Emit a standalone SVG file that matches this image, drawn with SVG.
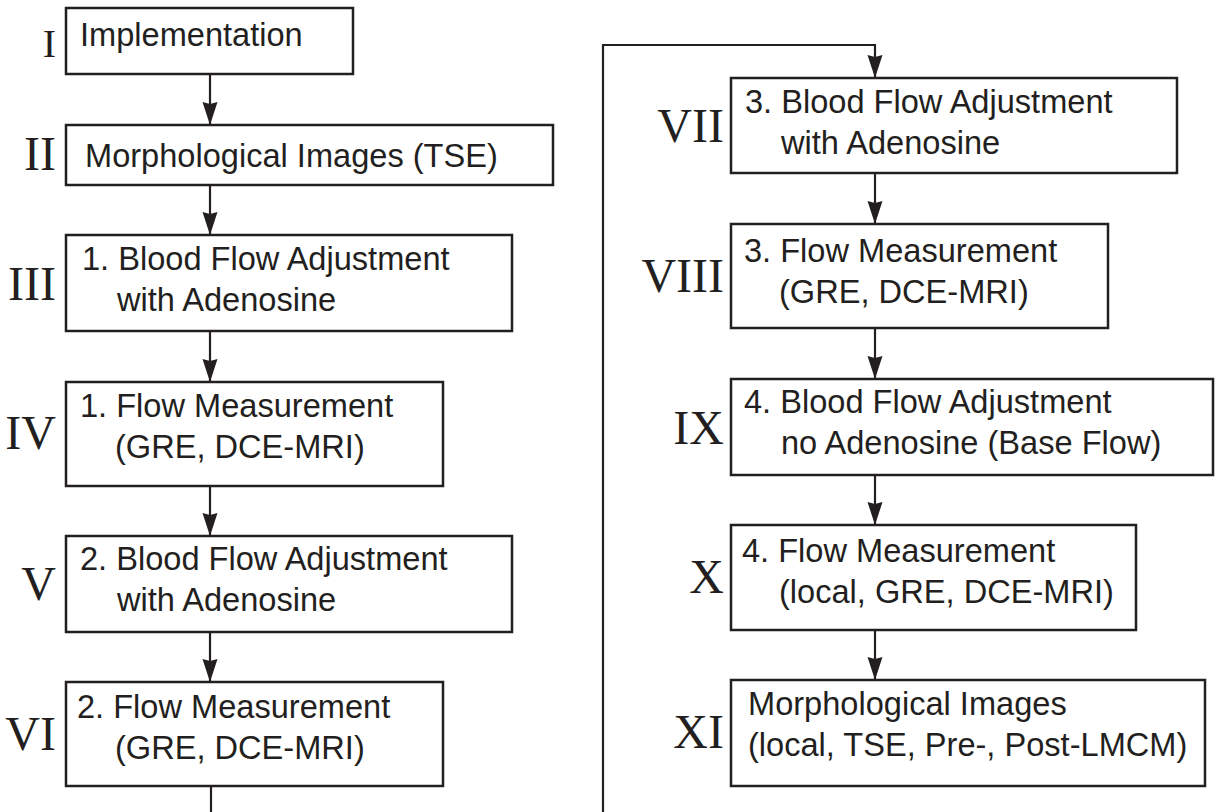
<svg xmlns="http://www.w3.org/2000/svg" width="1215" height="812" viewBox="0 0 1215 812">
<style>
.box{fill:#fff;stroke:#231f20;stroke-width:2.5}
.t{font-family:"Liberation Sans",Arial,sans-serif;font-size:32.6px;fill:#231f20}
.n{font-family:"Liberation Serif","Times New Roman",serif;font-size:48px;fill:#231f20;text-anchor:end}
.c{fill:none;stroke:#231f20;stroke-width:2.2}
</style>
<defs>
<marker id="ah" markerUnits="userSpaceOnUse" markerWidth="24" markerHeight="16" refX="23" refY="7.5" orient="auto">
<path d="M0,0 L23,7.5 L0,15 L2,7.5 z" fill="#231f20"/>
</marker>
</defs>
<rect width="1215" height="812" fill="#fff"/>
<g id="connectors">
<line class="c" x1="210" y1="74" x2="210" y2="125" marker-end="url(#ah)"/>
<line class="c" x1="210" y1="185" x2="210" y2="235" marker-end="url(#ah)"/>
<line class="c" x1="210" y1="331" x2="210" y2="382" marker-end="url(#ah)"/>
<line class="c" x1="210" y1="486" x2="210" y2="536" marker-end="url(#ah)"/>
<line class="c" x1="210" y1="632" x2="210" y2="682" marker-end="url(#ah)"/>
<line class="c" x1="211" y1="786" x2="211" y2="812"/>
<polyline class="c" points="603,812 603,45 875,45 875,78" marker-end="url(#ah)"/>
<line class="c" x1="875" y1="173" x2="875" y2="224" marker-end="url(#ah)"/>
<line class="c" x1="875" y1="328" x2="875" y2="379" marker-end="url(#ah)"/>
<line class="c" x1="875" y1="475" x2="875" y2="525" marker-end="url(#ah)"/>
<line class="c" x1="875" y1="630" x2="875" y2="680" marker-end="url(#ah)"/>
</g>
<g id="node-I">
<rect class="box" x="66" y="8" width="287" height="66"/>
<text class="n" x="56" y="57" style="font-size:40px">I</text>
<text class="t" x="80" y="46">Implementation</text>
</g>
<g id="node-II">
<rect class="box" x="66" y="125" width="487" height="60"/>
<text class="n" x="56" y="170">II</text>
<text class="t" x="85" y="167">Morphological Images (TSE)</text>
</g>
<g id="node-III">
<rect class="box" x="66" y="235" width="446" height="96"/>
<text class="n" x="56" y="300">III</text>
<text class="t" x="82" y="270">1. Blood Flow Adjustment</text>
<text class="t" x="117" y="311">with Adenosine</text>
</g>
<g id="node-IV">
<rect class="box" x="66" y="382" width="377" height="104"/>
<text class="n" x="56" y="449">IV</text>
<text class="t" x="80" y="417">1. Flow Measurement</text>
<text class="t" x="115" y="458">(GRE, DCE-MRI)</text>
</g>
<g id="node-V">
<rect class="box" x="66" y="536" width="446" height="96"/>
<text class="n" x="56" y="600">V</text>
<text class="t" x="80" y="570">2. Blood Flow Adjustment</text>
<text class="t" x="117" y="611">with Adenosine</text>
</g>
<g id="node-VI">
<rect class="box" x="66" y="682" width="377" height="104"/>
<text class="n" x="56" y="750">VI</text>
<text class="t" x="77" y="718">2. Flow Measurement</text>
<text class="t" x="115" y="759">(GRE, DCE-MRI)</text>
</g>
<g id="node-VII">
<rect class="box" x="731" y="78" width="446" height="95"/>
<text class="n" x="724" y="142">VII</text>
<text class="t" x="745" y="113">3. Blood Flow Adjustment</text>
<text class="t" x="781" y="154">with Adenosine</text>
</g>
<g id="node-VIII">
<rect class="box" x="731" y="224" width="377" height="104"/>
<text class="n" x="724" y="292">VIII</text>
<text class="t" x="744" y="262">3. Flow Measurement</text>
<text class="t" x="779" y="303">(GRE, DCE-MRI)</text>
</g>
<g id="node-IX">
<rect class="box" x="731" y="379" width="482" height="96"/>
<text class="n" x="724" y="444">IX</text>
<text class="t" x="744" y="413">4. Blood Flow Adjustment</text>
<text class="t" x="781" y="454">no Adenosine (Base Flow)</text>
</g>
<g id="node-X">
<rect class="box" x="731" y="525" width="405" height="105"/>
<text class="n" x="724" y="593">X</text>
<text class="t" x="742" y="562">4. Flow Measurement</text>
<text class="t" x="779" y="603">(local, GRE, DCE-MRI)</text>
</g>
<g id="node-XI">
<rect class="box" x="731" y="680" width="474" height="106"/>
<text class="n" x="724" y="748">XI</text>
<text class="t" x="748" y="715">Morphological Images</text>
<text class="t" x="748" y="756">(local, TSE, Pre-, Post-LMCM)</text>
</g>
</svg>
